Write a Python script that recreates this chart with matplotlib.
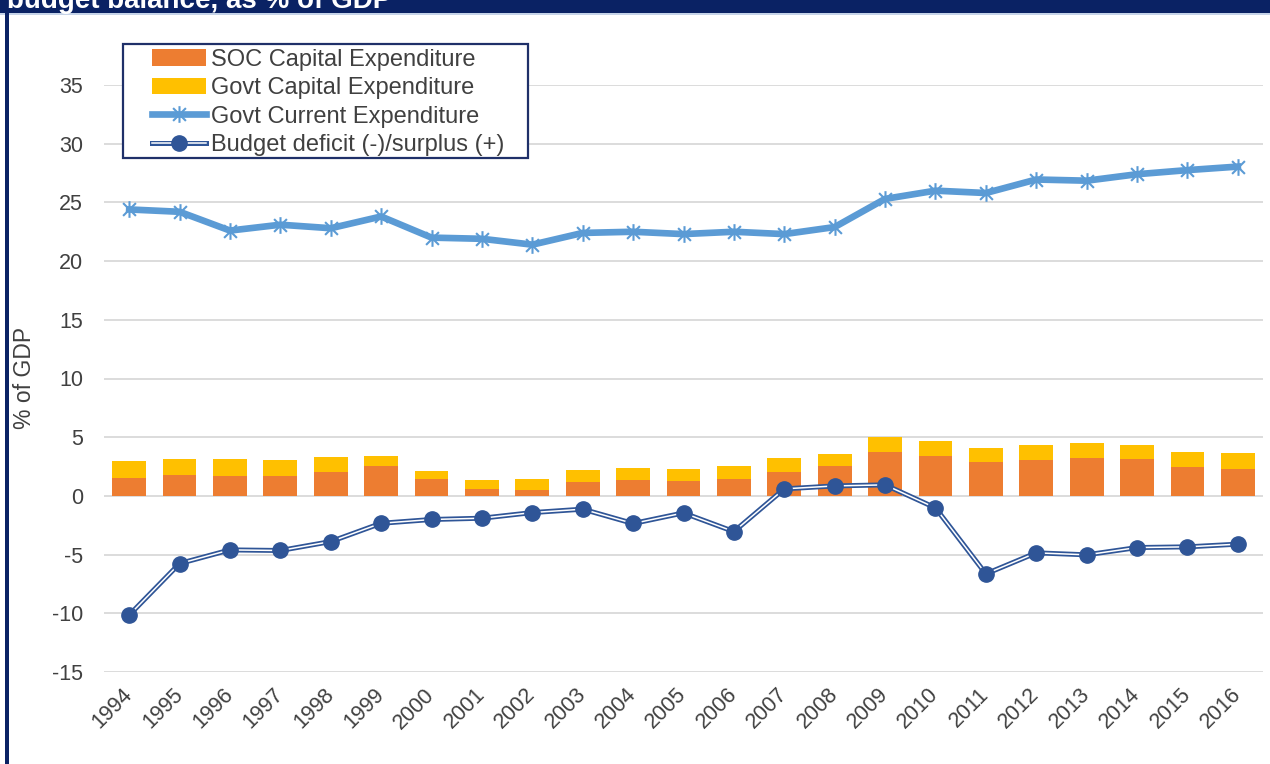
import numpy as np
import matplotlib.pyplot as plt
import matplotlib.patheffects as pe
from matplotlib.path import Path
from matplotlib.patches import Rectangle
from matplotlib.legend_handler import HandlerTuple

plt.rcParams['font.family'] = ['Liberation Sans', 'DejaVu Sans']
plt.rcParams['axes.unicode_minus'] = False

years = ['1994', '1995', '1996', '1997', '1998', '1999', '2000', '2001',
         '2002', '2003', '2004', '2005', '2006', '2007', '2008', '2009',
         '2010', '2011', '2012', '2013', '2014', '2015', '2016']

soc_capex = [1.56, 1.76, 1.70, 1.67, 2.07, 2.53, 1.48, 0.62, 0.54, 1.16, 1.32,
             1.31, 1.45, 2.07, 2.53, 3.77, 3.43, 2.92, 3.09, 3.23, 3.15, 2.49, 2.32]
govt_capex = [1.39, 1.42, 1.42, 1.42, 1.22, 0.85, 0.68, 0.74, 0.91, 1.03, 1.05,
              0.99, 1.10, 1.13, 1.04, 1.25, 1.22, 1.17, 1.28, 1.25, 1.19, 1.25, 1.34]
govt_current = [24.4, 24.2, 22.6, 23.1, 22.8, 23.8, 22.0, 21.9, 21.4, 22.4, 22.5,
                22.3, 22.5, 22.3, 22.9, 25.3, 26.0, 25.8, 26.95, 26.85, 27.4, 27.75, 28.05]
budget = [-10.15, -5.76, -4.6, -4.65, -3.89, -2.33, -2.01, -1.90, -1.42, -1.13, -2.35,
          -1.45, -3.04, 0.6, 0.85, 0.94, -1.02, -6.64, -4.85, -5.02, -4.4, -4.34, -4.11]

navy = '#0A2264'
txt = '#404040'

# excel style star marker: X plus a vertical bar
star = Path([(-1, -1), (1, 1), (-1, 1), (1, -1), (0, -1.3), (0, 1.3)],
            [Path.MOVETO, Path.LINETO, Path.MOVETO, Path.LINETO, Path.MOVETO, Path.LINETO])

W, H = 1270, 764
fig = plt.figure(figsize=(12.7, 7.64), dpi=100)
ax = fig.add_axes([104 / W, 92 / H, 1159 / W, 587 / H])

x = np.arange(len(years))
b1 = ax.bar(x, soc_capex, width=0.67, color='#ED7D31', zorder=2)
b2 = ax.bar(x, govt_capex, bottom=soc_capex, width=0.67, color='#FFC000', zorder=2)

cur, = ax.plot(x, govt_current, color='#5B9BD5', lw=4.8, marker=star, ms=12,
               mew=1.5, mec='#5B9BD5', zorder=4)

ln, = ax.plot(x, budget, color='white', lw=1.1, zorder=3,
              path_effects=[pe.Stroke(linewidth=3.6, foreground='#2F5597'), pe.Normal()])
mk, = ax.plot(x, budget, ls='none', marker='o', ms=11, mfc='#2F5597', mec='#2F5597', zorder=3)

ax.set_xlim(-0.5, len(years) - 0.5)
ax.set_ylim(-15, 35)
ax.set_yticks(range(-15, 40, 5))
ax.set_xticks(x)
ax.set_xticklabels(years, rotation=45, ha='right', va='center', rotation_mode='anchor')
ax.tick_params(axis='both', length=0, labelsize=15.5, labelcolor=txt)
ax.tick_params(axis='y', pad=15)
ax.tick_params(axis='x', pad=14)
ax.grid(axis='y', color='#D9D9D9', lw=1.3)
ax.set_axisbelow(True)
for s in ax.spines.values():
    s.set_visible(False)

fig.text(25 / W, 1 - 378 / H, '% of GDP', rotation=90, ha='center', va='center',
         fontsize=16.5, color=txt)

# legend box
fig.add_artist(Rectangle((123 / W, 1 - 158 / H), 405 / W, 114 / H, transform=fig.transFigure,
                         facecolor='white', edgecolor='#1F3069', lw=1.6, zorder=4))
fig.legend(handles=[b1, b2, cur, (ln, mk)],
           labels=['SOC Capital Expenditure', 'Govt Capital Expenditure',
                   'Govt Current Expenditure', 'Budget deficit (-)/surplus (+)'],
           loc='upper left', bbox_to_anchor=(152 / W, 1 - 49 / H), frameon=False,
           fontsize=17, handlelength=2.3, handletextpad=0.2, labelspacing=0.27,
           borderpad=0, borderaxespad=0, labelcolor=txt,
           handler_map={tuple: HandlerTuple(ndivide=1)})

# navy frame with the cut title
fig.add_artist(Rectangle((0, 1 - 13 / H), 1, 13 / H, transform=fig.transFigure,
                         facecolor=navy, edgecolor='none', zorder=6))
fig.add_artist(Rectangle((0, 1 - 15 / H), 1, 2 / H, transform=fig.transFigure,
                         facecolor='#C5D3E8', edgecolor='none', zorder=6))
fig.add_artist(Rectangle((5 / W, 0), 4 / W, 1 - 13 / H, transform=fig.transFigure,
                         facecolor=navy, edgecolor='none', zorder=6))
fig.text(7 / W, 1 - 8 / H, 'budget balance, as % of GDP', color='white', fontweight='bold',
         fontsize=20, va='baseline', zorder=7)

fig.savefig('out.png', dpi=100)
